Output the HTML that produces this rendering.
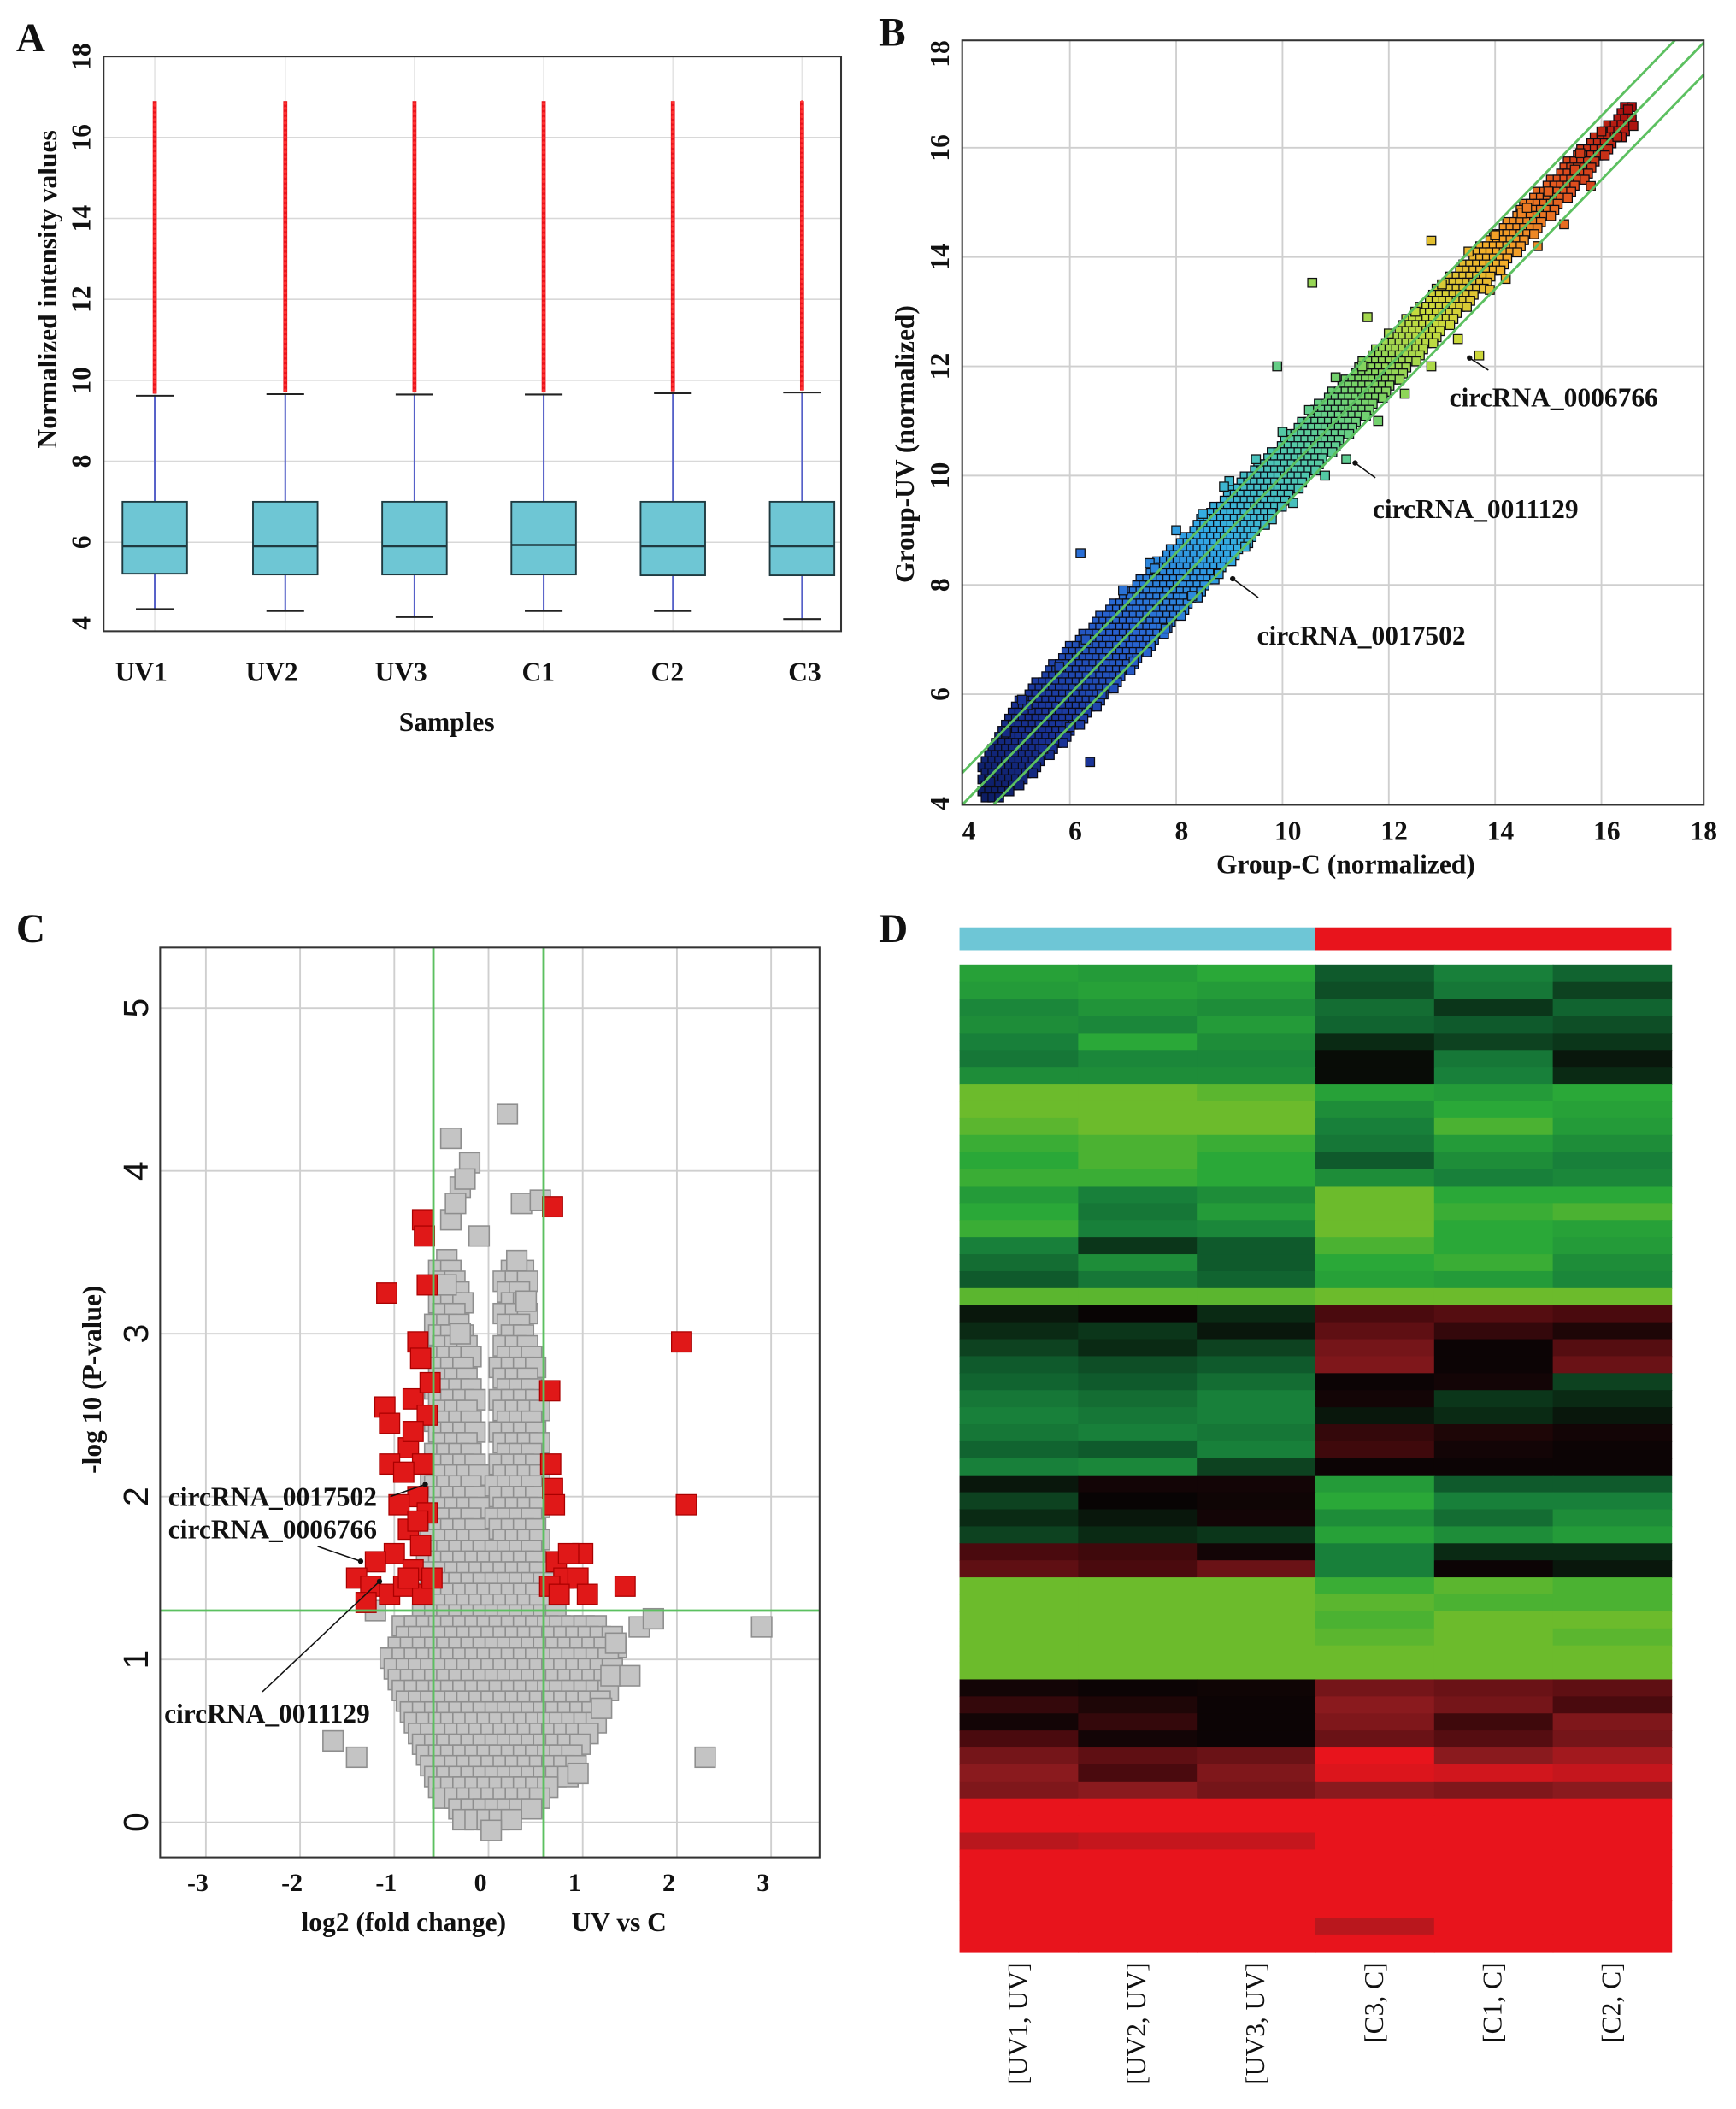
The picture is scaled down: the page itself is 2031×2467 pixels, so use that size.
<!DOCTYPE html>
<html><head><meta charset="utf-8"><style>
html,body{margin:0;padding:0;background:#fff}
svg{display:block}
text{font-family:"Liberation Serif",serif;font-weight:bold;fill:#111}
</style></head><body>
<svg id="fig" xmlns="http://www.w3.org/2000/svg" width="2031" height="2467" viewBox="0 0 1290 1567" preserveAspectRatio="none">
<g id="pA"></g>
<g id="pB"></g>
<g id="pC"></g>
<g id="pD"></g>
</svg>
<script>
// ---------- Panel A data ----------
const samples=["UV1","UV2","UV3","C1","C2","C3"];
const q1=[5.22,5.2,5.2,5.2,5.18,5.18];
const med=[5.9,5.9,5.9,5.93,5.9,5.9];
const q3=[7.0,7.0,7.0,7.0,7.0,7.0];
const whiskHi=[9.62,9.66,9.65,9.65,9.68,9.7];
const whiskLo=[4.35,4.3,4.15,4.3,4.3,4.1];
const outMax=[16.9,16.9,16.9,16.9,16.9,16.9];
const aTicks=[4,6,8,10,12,14,16,18];
// ---------- Panel B data ----------
const bTicks=[4,6,8,10,12,14,16,18];
const bandX=[4.3,4.6,5,6,7,8,9,10,11,12,13,14,15,16,16.6];
const bandHalf=[0.3,0.6,0.8,0.85,0.8,0.72,0.68,0.62,0.58,0.52,0.48,0.42,0.36,0.3,0.25];
const ptC=[4.5,4.8,5.2,5.5,5.8,6.0,6.3,6.6,6.38,6.2,7.0,7.2,7.5,7.8,8.0,8.3,8.5,8.8,9.0,9.3,9.5,9.8,10.0,10.2,10.5,10.8,11.0,11.2,11.5,11.8,12.0,12.3,12.5,12.8,13.0,13.3,13.5,13.7,14.0,14.2,14.5,14.8,15.0,15.3,15.5,15.8,16.0,16.3,16.5,16.6,10.56,9.9,12.8,11.6,8.9,7.6,5.1,13.9,15.6,14.6];
const ptUV=[4.4,5.3,5.8,5.0,6.5,5.4,7.0,6.0,4.76,8.58,7.9,6.6,8.4,7.2,9.0,7.8,9.3,8.2,9.9,8.7,10.3,9.2,10.8,9.5,11.2,10.0,11.8,10.3,12.0,11.0,12.6,11.5,13.0,12.0,13.5,12.5,14.1,12.2,14.4,13.6,14.8,14.2,15.2,14.6,15.6,15.3,16.3,16.2,16.7,16.4,13.53,12.0,14.3,12.9,9.8,8.3,5.9,13.4,15.9,14.9];
// ---------- Panel C data ----------
const cXTicks=[-3,-2,-1,0,1,2,3];
const cYTicks=[0,1,2,3,4,5];
const redX=[-0.7,-0.68,-0.65,-1.08,-0.75,-0.72,-1.1,-0.8,-0.65,-1.05,-0.85,-0.7,-1.05,-0.9,-0.75,-0.95,-0.65,-0.85,-0.72,-1.0,-0.8,-1.2,-1.4,-1.25,-1.05,-0.9,-0.7,-1.3,-0.6,-0.62,0.68,2.05,2.1,0.65,0.66,0.68,0.7,0.72,0.8,0.95,1.0,1.05,1.45,0.85,0.65,0.75,-0.8,-0.75,-0.85];
const redY=[3.7,3.6,3.3,3.25,2.95,2.85,2.55,2.6,2.5,2.45,2.3,2.2,2.2,2.15,2.0,1.95,1.9,1.8,1.7,1.65,1.55,1.6,1.5,1.45,1.4,1.45,1.4,1.35,1.5,2.7,3.78,2.95,1.95,2.65,2.2,2.05,1.95,1.6,1.5,1.5,1.65,1.4,1.45,1.65,1.45,1.4,2.4,1.85,1.5];
const grayX=[0.2,-0.4,-0.2,-0.3,0.35,0.55,-0.4,-0.1,0.3,-0.45,0.4,-0.3,1.6,1.75,2.9,1.35,1.3,-1.65,-1.4,2.3,0.95,-1.2,1.2,1.5,-0.35,-0.25];
const grayY=[4.35,4.2,4.05,3.9,3.8,3.82,3.7,3.6,3.45,3.3,3.2,3.0,1.2,1.25,1.2,1.1,0.9,0.5,0.4,0.4,0.3,1.3,0.7,0.9,3.8,3.95];
const blobX=[-0.05,0.15,0.5,0.9,1.15,1.35,1.4,1.0,0.65,0.55,0.55,0.45,0.45,0.15,0.1,0.05,-0.05,-0.15,-0.3,-0.55,-0.6,-0.7,-0.9,-1.1,-0.9,-0.7,-0.4];
const blobY=[-0.05,-0.05,0.1,0.3,0.6,0.9,1.15,1.25,1.3,1.6,2.6,3.0,3.4,3.45,2.7,1.7,1.7,2.7,3.4,3.5,2.5,1.3,1.25,1.0,0.6,0.3,0.05];
// ---------- Panel D data ----------
const hmCols=["[UV1, UV]","[UV2, UV]","[UV3, UV]","[C3, C]","[C1, C]","[C2, C]"];
const hmRows=[
[-.75,-.7,-.8,-.3,-.5,-.35],[-.7,-.75,-.7,-.25,-.45,-.2],[-.55,-.65,-.6,-.4,-.15,-.35],[-.6,-.55,-.7,-.35,-.3,-.25],
[-.5,-.8,-.6,-.1,-.2,-.15],[-.45,-.55,-.55,-.02,-.45,-.05],[-.6,-.6,-.6,-.02,-.5,-.1],
[-1,-1,-.95,-.75,-.7,-.8],[-1,-1,-1,-.6,-.8,-.75],[-.95,-1,-1,-.5,-.9,-.7],[-.85,-.9,-.85,-.45,-.7,-.6],
[-.8,-.9,-.8,-.3,-.6,-.5],[-.85,-.85,-.8,-.6,-.5,-.55],
[-.7,-.5,-.6,-1,-.8,-.8],[-.8,-.45,-.7,-1,-.85,-.9],[-.85,-.5,-.55,-1,-.8,-.75],[-.5,-.15,-.3,-.9,-.8,-.7],
[-.4,-.6,-.3,-.8,-.85,-.6],[-.3,-.45,-.35,-.75,-.7,-.55],[-.95,-.95,-.95,-1,-1,-1],
[-.05,0,-.1,.3,.35,.3],[-.1,-.15,-.05,.4,.2,.1],[-.2,-.1,-.2,.5,.02,.35],[-.3,-.25,-.3,.55,.02,.45],
[-.35,-.3,-.4,.02,.05,-.2],[-.45,-.4,-.5,.05,-.15,-.1],[-.5,-.45,-.5,-.05,-.1,-.05],[-.45,-.5,-.45,.2,.1,.05],
[-.35,-.3,-.5,.25,.05,.02],[-.5,-.55,-.2,.02,.02,.02],
[-.05,.05,.05,-.7,-.3,-.3],[-.2,0,.03,-.8,-.5,-.5],[-.1,-.05,.05,-.6,-.4,-.6],[-.2,-.1,-.15,-.75,-.6,-.7],
[.3,.25,.05,-.5,-.1,-.1],[.4,.3,.45,-.5,.02,-.05],
[-1,-1,-1,-.85,-.95,-.9],[-1,-1,-1,-.95,-.9,-.9],[-1,-1,-1,-.9,-1,-1],[-1,-1,-1,-.95,-1,-.95],[-1,-1,-1,-1,-1,-1],[-1,-1,-1,-1,-1,-1],
[.05,.02,.03,.5,.45,.4],[.2,.1,.02,.6,.5,.3],[.05,.2,.02,.55,.25,.55],[.3,.05,.02,.45,.35,.5],
[.5,.4,.45,1,.6,.7],[.6,.3,.55,.95,.9,.85],[.55,.6,.5,.6,.55,.6],
[1,1,1,1,1,1],[1,1,1,1,1,1],[.8,.85,.85,1,1,1],[1,1,1,1,1,1],[1,1,1,1,1,1],[1,1,1,1,1,1],[1,1,1,1,1,1],[1,1,1,.8,1,1],[1,1,1,1,1,1]
];
const groupColors=["#6ec6d6","#e8141c"];

const NS="http://www.w3.org/2000/svg";
function mk(parent,tag,attrs,txt){const e=document.createElementNS(NS,tag);for(const k in attrs)e.setAttribute(k,attrs[k]);if(txt!==undefined)e.textContent=txt;parent.appendChild(e);return e;}
function interp(xs,ys,v){if(v<=xs[0])return ys[0];for(let i=1;i<xs.length;i++){if(v<=xs[i]){const f=(v-xs[i-1])/(xs[i]-xs[i-1]);return ys[i-1]+(ys[i]-ys[i-1])*f;}}return ys[ys.length-1];}
function inPoly(px,py,X,Y){let c=false;for(let i=0,j=X.length-1;i<X.length;j=i++){if(((Y[i]>py)!=(Y[j]>py))&&(px<(X[j]-X[i])*(py-Y[i])/(Y[j]-Y[i])+X[i]))c=!c;}return c;}

// ===== Panel A =====
(function(){
const g=document.getElementById('pA');
const L=77,R=625,T=42,B=469;
const y=v=>463-(v-4)*(421/14);
const xc=[115,212,308,404,500,596];
const bw=48;
let t=mk(g,'text',{x:12,y:38,'font-size':30});t.textContent='A';


aTicks.forEach(v=>{
 if(v>4&&v<18){const l=mk(g,'line',{x1:L,x2:R,y1:y(v),y2:y(v),stroke:'#d8d8d8','stroke-width':1});
 
 }
 const tx=mk(g,'text',{x:0,y:0,'font-size':20,'text-anchor':'middle',transform:`translate(${L-10},${y(v)}) rotate(-90)`},String(v));
 
 
});
samples.forEach((s,i)=>{
 const x=xc[i];
 mk(g,'line',{x1:x,x2:x,y1:T,y2:B,stroke:'#e4e4e4','stroke-width':1});
 const w=mk(g,'line',{x1:x,x2:x,y1:y(whiskHi[i]),y2:y(whiskLo[i]),stroke:'#5560c8','stroke-width':1.3});
 
 
 mk(g,'line',{x1:x-14,x2:x+14,y1:y(whiskHi[i]),y2:y(whiskHi[i]),stroke:'#222','stroke-width':1.3});
 mk(g,'line',{x1:x-14,x2:x+14,y1:y(whiskLo[i]),y2:y(whiskLo[i]),stroke:'#222','stroke-width':1.3});
 const o=mk(g,'rect',{x:x-1.5,y:y(outMax[i]),width:3,height:y(whiskHi[i]+0.05)-y(outMax[i]),fill:'#e8141c'});
 
 
 for(let v=whiskHi[i]+0.1;v<outMax[i];v+=0.12){mk(g,'circle',{cx:x,cy:y(v),r:1.2,fill:'#ff3030'});}
 const b=mk(g,'rect',{x:x-bw/2,y:y(q3[i]),width:bw,height:y(q1[i])-y(q3[i]),fill:'#6ec6d4',stroke:'#1f3a40','stroke-width':1.2});
 
 
 mk(g,'line',{x1:x-bw/2,x2:x+bw/2,y1:y(med[i]),y2:y(med[i]),stroke:'#1f3a40','stroke-width':1.6});
 const lb=mk(g,'text',{x:x-(i==5?-2:i>=3?4:10),y:506,'font-size':20,'text-anchor':'middle'},s);
 
 
});
const fr=mk(g,'rect',{x:L,y:T,width:R-L,height:B-T,fill:'none',stroke:'#333','stroke-width':1.3});


const xt=mk(g,'text',{x:332,y:543,'font-size':20,'text-anchor':'middle'},'Samples');


const yt=mk(g,'text',{x:0,y:0,'font-size':20,'text-anchor':'middle',transform:'translate(42,215) rotate(-90)'},'Normalized intensity values');


})();

// ===== Panel B =====
function jet(v){let t=Math.max(0,Math.min(1,(v-4)/12.6));
 const stops=[[0,[10,25,90]],[0.12,[25,50,150]],[0.25,[40,100,210]],[0.38,[50,170,230]],[0.5,[80,200,170]],[0.6,[120,210,100]],[0.7,[200,220,60]],[0.8,[245,170,40]],[0.9,[225,80,30]],[1,[170,15,15]]];
 for(let i=1;i<stops.length;i++){if(t<=stops[i][0]){const a=stops[i-1],b=stops[i],f=(t-a[0])/(b[0]-a[0]);const c=a[1].map((q,k)=>Math.round(q+(b[1][k]-q)*f));return `rgb(${c})`;}}
 return 'rgb(170,15,15)';}
(function(){
const g=document.getElementById('pB');
const L=715,R=1266,T=30,B=598;
const x=v=>716+(v-4)*39.5, y=v=>597-(v-4)*40.6;
const xi=p=>(p-716)/39.5+4, yi=p=>(597-p)/40.6+4;
let t=mk(g,'text',{x:653,y:34,'font-size':30},'B');


bTicks.forEach(v=>{
 if(v>4&&v<18){mk(g,'line',{x1:x(v),x2:x(v),y1:T,y2:B,stroke:'#cfcfcf','stroke-width':1.2});
 mk(g,'line',{x1:L,x2:R,y1:y(v),y2:y(v),stroke:'#cfcfcf','stroke-width':1.2});}
 const a=mk(g,'text',{x:Math.min(x(v)+4,1266),y:624,'font-size':20,'text-anchor':'middle'},String(v));
 
 
 const b=mk(g,'text',{x:0,y:0,'font-size':20,'text-anchor':'middle',transform:`translate(705,${Math.max(y(v),40)}) rotate(-90)`},String(v));
 
 
});
const clip=mk(g,'clipPath',{id:'clipB'});mk(clip,'rect',{x:L,y:T,width:R-L,height:B-T});
const cg=mk(g,'g',{'clip-path':'url(#clipB)'});
// dense band drawn as lattice of squares inside band envelope
const band=mk(cg,'g',{});


let row=0;
for(let py=T;py<B;py+=4.5,row++){
 for(let px=L+(row%2)*2.5;px<R;px+=5){
  const xv=xi(px),yv=yi(py);
  if(xv<bandX[0]||xv>bandX[bandX.length-1])continue;
  const d=yv-xv-0.05;
  if(Math.abs(d)<=interp(bandX,bandHalf,xv)){
   mk(band,'rect',{x:px-3.3,y:py-3.3,width:6.6,height:6.6,fill:jet((xv+yv)/2),stroke:'#0a0a14','stroke-width':0.8});
  }
 }
}
ptC.forEach((c,i)=>{
 const p=mk(cg,'rect',{x:x(c)-3.3,y:y(ptUV[i])-3.3,width:6.6,height:6.6,fill:jet((c+ptUV[i])/2),stroke:'#111','stroke-width':0.8});
 
 
});
[-0.585,0,0.585].forEach(o=>{
 const l=mk(cg,'line',{x1:x(3),y1:y(3+o),x2:x(19),y2:y(19+o),stroke:'#5cc060','stroke-width':1.8});
 
 
});
const fr=mk(g,'rect',{x:L,y:T,width:R-L,height:B-T,fill:'none',stroke:'#333','stroke-width':1.3});


const ann=[[1077,302,'circRNA_0006766',1106,275,1092,266],[1020,385,'circRNA_0011129',1022,355,1007,344],[934,479,'circRNA_0017502',935,444,916,430]];
ann.forEach(a=>{
 const tx=mk(g,'text',{x:a[0],y:a[1],'font-size':20},a[2]);
 
 
 mk(g,'line',{x1:a[3],y1:a[4],x2:a[5],y2:a[6],stroke:'#111','stroke-width':1});
 mk(g,'circle',{cx:a[5],cy:a[6],r:2,fill:'#111'});
});
const xt=mk(g,'text',{x:1000,y:649,'font-size':20,'text-anchor':'middle'},'Group-C (normalized)');


const yt=mk(g,'text',{x:0,y:0,'font-size':20,'text-anchor':'middle',transform:'translate(679,330) rotate(-90)'},'Group-UV (normalized)');


})();

// ===== Panel C =====
(function(){
const g=document.getElementById('pC');
const L=119,R=609,T=704,B=1380;
const x=v=>363+v*70, y=v=>1354-v*121;
const xi=p=>(p-363)/70, yi=p=>(1354-p)/121;
let t=mk(g,'text',{x:12,y:700,'font-size':30},'C');


cXTicks.forEach(v=>{
 mk(g,'line',{x1:x(v),x2:x(v),y1:T,y2:B,stroke:'#cfcfcf','stroke-width':1.2});
 const a=mk(g,'text',{x:x(v)-6,y:1405,'font-size':19,'text-anchor':'middle'},String(v));
 
 
});
cYTicks.forEach(v=>{
 mk(g,'line',{x1:L,x2:R,y1:y(v),y2:y(v),stroke:'#cfcfcf','stroke-width':1.2});
 const a=mk(g,'text',{x:0,y:0,'font-size':26,'text-anchor':'middle',style:'font-family:Liberation Sans,sans-serif;font-weight:normal',transform:`translate(110,${y(v)}) rotate(-90)`},String(v));
 
 
});
const clip=mk(g,'clipPath',{id:'clipC'});mk(clip,'rect',{x:L,y:T,width:R-L,height:B-T});
const cg=mk(g,'g',{'clip-path':'url(#clipC)'});
const s=15;
const cloud=mk(cg,'g',{});


let row=0;
for(let py=T;py<B;py+=8,row++){
 for(let px=L+(row%3)*3;px<R;px+=9){
  if(inPoly(xi(px),yi(py),blobX,blobY)){
   mk(cloud,'rect',{x:px-s/2,y:py-s/2,width:s,height:s,fill:'#c4c4c4',stroke:'#8e8e8e','stroke-width':1});
  }
 }
}
grayX.forEach((v,i)=>{
 const p=mk(cg,'rect',{x:x(v)-s/2,y:y(grayY[i])-s/2,width:s,height:s,fill:'#c4c4c4',stroke:'#8e8e8e','stroke-width':1});
 
 
});
redX.forEach((v,i)=>{
 const p=mk(cg,'rect',{x:x(v)-s/2,y:y(redY[i])-s/2,width:s,height:s,fill:'#e01818',stroke:'#a00','stroke-width':0.8});
 
 
});
[-0.585,0.585].forEach(v=>{const l=mk(cg,'line',{x1:x(v),x2:x(v),y1:T,y2:B,stroke:'#5cc060','stroke-width':1.8});
 
 });
const h=mk(cg,'line',{x1:L,x2:R,y1:y(1.3),y2:y(1.3),stroke:'#5cc060','stroke-width':1.8});


const fr=mk(g,'rect',{x:L,y:T,width:R-L,height:B-T,fill:'none',stroke:'#333','stroke-width':1.3});


const ann=[[125,1119,'circRNA_0017502',290,1112,316,1103],[125,1143,'circRNA_0006766',236,1149,268,1160],[122,1280,'circRNA_0011129',195,1257,282,1175]];
ann.forEach(a=>{
 const tx=mk(g,'text',{x:a[0],y:a[1],'font-size':20},a[2]);
 
 
 mk(g,'line',{x1:a[3],y1:a[4],x2:a[5],y2:a[6],stroke:'#111','stroke-width':1});
 mk(g,'circle',{cx:a[5],cy:a[6],r:2,fill:'#111'});
});
const xt=mk(g,'text',{x:300,y:1435,'font-size':20,'text-anchor':'middle'},'log2 (fold change)');


const xt2=mk(g,'text',{x:460,y:1435,'font-size':20,'text-anchor':'middle'},'UV vs C');


const yt=mk(g,'text',{x:0,y:0,'font-size':20,'text-anchor':'middle',transform:'translate(75,1025) rotate(-90)'},'-log 10 (P-value)');


})();

// ===== Panel D =====
function hcol(v){
 const st=[[-1,[108,187,44]],[-0.8,[42,168,56]],[-0.5,[24,128,58]],[-0.3,[15,90,44]],[-0.1,[10,42,20]],[0,[8,4,4]],[0.3,[74,10,14]],[0.6,[138,26,30]],[1,[232,20,28]]];
 for(let i=1;i<st.length;i++){if(v<=st[i][0]){const a=st[i-1],b=st[i],f=(v-a[0])/(b[0]-a[0]);return `rgb(${a[1].map((q,k)=>Math.round(q+(b[1][k]-q)*f))})`;}}
 return 'rgb(232,20,28)';}
(function(){
const g=document.getElementById('pD');
const L=713,R=1242,T=717,B=1450;
let t=mk(g,'text',{x:653,y:700,'font-size':30},'D');


const cw=(R-L)/hmCols.length, rh=(B-T)/hmRows.length;
const half=hmCols.length/2;
const g1=mk(g,'rect',{x:L,y:689,width:cw*half,height:17,fill:groupColors[0]});


const g2=mk(g,'rect',{x:L+cw*half,y:689,width:cw*half,height:17,fill:groupColors[1]});


hmRows.forEach((row,r)=>{row.forEach((v,c)=>{
 const cell=mk(g,'rect',{x:L+c*cw,y:T+r*rh,width:cw+0.5,height:rh+0.5,fill:hcol(v)});
 
 
});});
hmCols.forEach((n,c)=>{
 const tx=mk(g,'text',{x:0,y:0,'font-size':20,style:'font-weight:normal','text-anchor':'end',transform:`translate(${L+c*cw+cw/2+6},1458) rotate(-90)`},n);
 
 
});
})();
</script>
</body></html>
